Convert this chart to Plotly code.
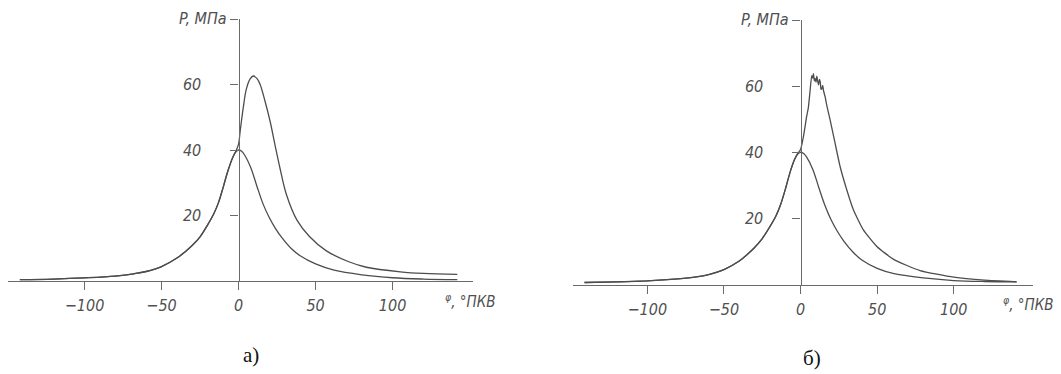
import plotly.graph_objects as go

W, H = 1061, 374

# ---- data: panel a) ----
a_mot_x = [-142, -120, -100, -80, -68, -60, -50, -40, -35, -30, -25, -20, -16, -13, -10, -7, -4, -2, 0,
           2, 4, 8, 12, 16, 20, 24, 28, 34, 40, 50, 62, 80, 100, 120, 142]
a_mot_y = [0.4, 0.6, 0.95, 1.5, 2.2, 2.9, 4.4, 7.0, 8.8, 10.9, 13.5, 17.2, 20.6, 24.0, 28.6, 33.5, 37.5, 39.3, 40.0,
           39.6, 38.4, 34.5, 28.8, 23.4, 19.3, 16.0, 13.3, 10.0, 7.7, 5.2, 3.3, 1.9, 1.0, 0.6, 0.4]
a_fir_x = [-142, -120, -100, -80, -68, -60, -50, -40, -35, -30, -25, -20, -16, -13, -10, -7, -4, -2, 0,
           1, 3, 5, 7.5, 9.6, 12, 14, 17, 20.5, 23.7, 27, 31, 38, 46, 57, 72, 83, 105, 120, 142]
a_fir_y = [0.4, 0.6, 0.95, 1.5, 2.2, 2.9, 4.4, 7.0, 8.8, 10.9, 13.5, 17.2, 20.6, 24.0, 28.6, 33.5, 37.5, 39.4, 41.8,
           45.6, 52.8, 58.5, 61.7, 62.6, 61.8, 60.0, 55.2, 48.7, 41.4, 34.2, 26.5, 18.5, 13.6, 9.2, 5.8, 4.2, 2.8, 2.3, 2.0]

# ---- data: panel б) ----
b_mot_x = [-141, -120, -100, -80, -68, -60, -50, -40, -35, -30, -25, -20, -16, -13, -10, -7, -4, -2, 0,
           2, 4, 8, 12, 16, 20, 24, 28, 34, 40, 50, 61, 82, 100, 120, 141]
b_mot_y = [0.6, 0.8, 1.1, 1.7, 2.3, 3.0, 4.5, 7.1, 9.0, 11.2, 13.9, 17.5, 20.8, 24.2, 28.7, 33.7, 37.7, 39.4, 40.0,
           39.6, 38.5, 34.8, 29.2, 23.8, 19.5, 16.1, 13.3, 9.9, 7.4, 4.9, 3.3, 1.9, 1.2, 0.9, 0.8]
b_fir_x = [-141, -120, -100, -80, -68, -60, -50, -40, -35, -30, -25, -20, -16, -13, -10, -7, -4, -2, 0,
           1.9, 4.0, 5.1, 6.2, 7.3, 7.9, 8.4, 9.0, 9.5, 10.1, 10.6, 11.2, 11.7, 12.3, 12.8, 13.4, 13.9, 14.5, 15.0,
           16.0, 17.2, 19.3, 22.5, 25.8, 30.2, 34.5, 41, 49.8, 60.7, 78, 100, 120, 141]
b_fir_y = [0.6, 0.8, 1.1, 1.7, 2.3, 3.0, 4.5, 7.1, 9.0, 11.2, 13.9, 17.5, 20.8, 24.2, 28.7, 33.7, 37.7, 39.5, 40.8,
           44.8, 50.9, 53.5, 58.5, 63.2, 62.4, 63.8, 61.6, 62.3, 61.2, 63.0, 61.5, 60.4, 62.0, 61.4, 59.0, 59.2, 60.2, 58.6,
           56.8, 54.0, 49.8, 42.8, 35.7, 28.6, 22.6, 16.5, 11.5, 7.6, 4.2, 2.2, 1.3, 0.8]

x_ticks = [-100, -50, 0, 50, 100]
x_ticktext = ["\u2212100", "\u221250", "0", "50", "100"]
y_ticks = [20, 40, 60]
y_top_tick = [80]
y_title = "P, МПа"
x_title = "<sup>φ</sup>, °ПКВ"
panel_labels = ["а)", "б)"]

# ---- layout geometry (pixels) ----
panels = [
    dict(x0=8.3, x1=472.7, y0=19, y1=281, xr=[-149.5, 152], lbl=(251, 355), xt=(443, 301)),
    dict(x0=573, x1=1033, y0=20, y1=284.5, xr=[-148.5, 151.7], lbl=(812, 358), xt=(1001, 304)),
]

LINE = "#4d4d4d"
AX = "#6a6a6a"
TFONT = dict(family="DejaVu Sans Condensed", size=16, color="#505050", style="italic")
XTFONT = dict(family="DejaVu Sans Condensed", size=15, color="#505050", style="italic")

fig = go.Figure()
series = [(a_mot_x, a_mot_y, a_fir_x, a_fir_y), (b_mot_x, b_mot_y, b_fir_x, b_fir_y)]

annotations = []
for i, (p, (mx, my, fx, fy)) in enumerate(zip(panels, series)):
    sx = "" if i == 0 else str(i + 1)
    xa, ya = "x" + sx, "y" + sx
    fig.add_trace(go.Scatter(x=mx, y=my, mode="lines", xaxis=xa, yaxis=ya,
                             line=dict(color=LINE, width=1.3, shape="spline", smoothing=1.0),
                             showlegend=False, hoverinfo="skip"))
    fig.add_trace(go.Scatter(x=fx, y=fy, mode="lines", xaxis=xa, yaxis=ya,
                             line=dict(color=LINE, width=1.3, shape="spline",
                                       smoothing=1.0 if i == 0 else 0.5),
                             showlegend=False, hoverinfo="skip"))
    dom_x = [p["x0"] / W, p["x1"] / W]
    dom_y = [1 - p["y1"] / H, 1 - p["y0"] / H]
    xr = p["xr"]
    frac0 = (0 - xr[0]) / (xr[1] - xr[0])
    ypos = dom_x[0] + frac0 * (dom_x[1] - dom_x[0])
    fig.update_layout(**{
        "xaxis" + sx: dict(domain=dom_x, range=xr, anchor=ya, showline=True, linecolor=AX, linewidth=1.2,
                           ticks="outside", ticklen=8, tickcolor=AX, tickwidth=1.2,
                           tickvals=x_ticks, ticktext=x_ticktext, tickfont=TFONT,
                           showgrid=False, zeroline=False, ticklabelstandoff=2, automargin=False),
        "yaxis" + sx: dict(domain=dom_y, range=[0, 80], anchor="free", position=ypos, showline=True,
                           linecolor=AX, linewidth=1.2, ticks="outside", ticklen=8, tickcolor=AX, tickwidth=1.2,
                           tickvals=y_ticks, tickfont=TFONT,
                           minor=dict(tickvals=y_top_tick, ticks="outside", ticklen=8, tickcolor=AX,
                                      tickwidth=1.2, showgrid=False),
                           showgrid=False, zeroline=False, ticklabelstandoff=26, automargin=False),
    })
    annotations.append(dict(x=0, y=80, xref=xa, yref=ya, xanchor="right", yanchor="middle", xshift=-10,
                            text=y_title, showarrow=False, font=TFONT))
    annotations.append(dict(x=p["xt"][0] / W, y=1 - p["xt"][1] / H, xref="paper", yref="paper",
                            xanchor="left", yanchor="middle", text=x_title, showarrow=False, font=XTFONT))
    annotations.append(dict(x=p["lbl"][0] / W, y=1 - p["lbl"][1] / H, xref="paper", yref="paper",
                            xanchor="center", yanchor="middle", text=panel_labels[i], showarrow=False,
                            font=dict(family="Liberation Serif", size=21, color="#111")))

fig.update_layout(width=W, height=H, margin=dict(l=0, r=0, t=0, b=0),
                  paper_bgcolor="white", plot_bgcolor="white", annotations=annotations)
fig.write_html("out.html", config={"displayModeBar": False},
               post_script="document.body.style.margin='0px';document.body.style.overflow='hidden';")
